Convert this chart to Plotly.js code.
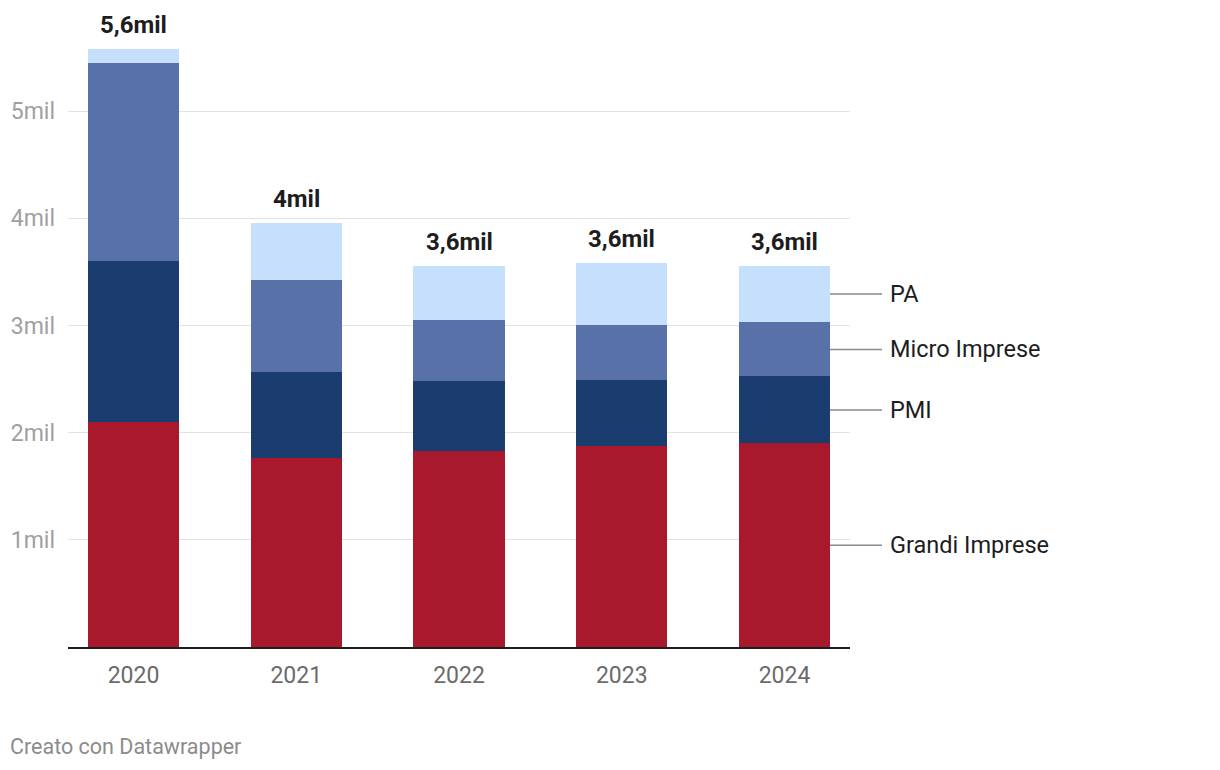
<!DOCTYPE html>
<html>
<head>
<meta charset="utf-8">
<script src="https://cdn.plot.ly/plotly-3.0.1.min.js"></script>
<style>
html,body{margin:0;padding:0;background:#fff;}
#chart{width:1220px;height:770px;}
</style>
</head>
<body>
<div id="chart"></div>
<script>
const years = ["2020", "2021", "2022", "2023", "2024"];
const grandiImprese = [2.10, 1.76, 1.83, 1.875, 1.90];
const pmi = [1.50, 0.81, 0.65, 0.615, 0.625];
const microImprese = [1.855, 0.86, 0.57, 0.52, 0.505];
const pa = [0.13, 0.53, 0.51, 0.57, 0.53];
const seriesNames = ["Grandi Imprese", "PMI", "Micro Imprese", "PA"];
const seriesColors = ["#a8192e", "#1a3c6e", "#5872a9", "#c6dffc"];
const yTickVals = [1, 2, 3, 4, 5];
const yTickText = ["1mil", "2mil", "3mil", "4mil", "5mil"];

const series = [grandiImprese, pmi, microImprese, pa];
const xIdx = years.map((_, i) => i);

const traces = series.map((vals, k) => ({
  type: "bar",
  x: xIdx,
  y: vals,
  name: seriesNames[k],
  marker: {color: seriesColors[k], line: {width: 0}},
  hoverinfo: "skip"
}));

const totals = xIdx.map(i => series.reduce((s, arr) => s + arr[i], 0));
function fmt(v) {
  let s = (Math.round(v * 10 + 1e-9) / 10).toFixed(1);
  if (s.endsWith(".0")) s = s.slice(0, -2);
  return s.replace(".", ",") + "mil";
}

const annotations = totals.map((t, i) => ({
  x: i, y: t, xref: "x", yref: "y",
  text: "<b>" + fmt(t) + "</b>",
  showarrow: false, yanchor: "bottom", yshift: 8,
  font: {family: "Roboto, sans-serif", size: 24, color: "#1d1d1d"}
}));

// right-hand labels at the midpoints of the last bar's segments
const last = years.length - 1;
const shapes = [];
let cum = 0;
series.forEach((arr, k) => {
  const mid = cum + arr[last] / 2;
  cum += arr[last];
  shapes.push({
    type: "line", xref: "paper", yref: "y",
    x0: 0.9744, x1: 1.041, y0: mid, y1: mid,
    line: {color: "#8a8a8a", width: 1.5}
  });
  annotations.push({
    xref: "paper", yref: "y", x: 1.041, y: mid,
    text: seriesNames[k], showarrow: false,
    xanchor: "left", xshift: 6,
    font: {family: "Roboto, sans-serif", size: 23.5, color: "#1d1d1d"}
  });
});

annotations.push({
  xref: "paper", yref: "paper", x: 0, y: 0,
  xanchor: "left", yanchor: "middle",
  xshift: -60, yshift: -99,
  text: "Creato con Datawrapper", showarrow: false,
  font: {family: "Roboto, sans-serif", size: 21.5, color: "#8c8c8c"}
});

const layout = {
  width: 1220, height: 770,
  margin: {l: 68, r: 370, t: 47, b: 123},
  paper_bgcolor: "#fff", plot_bgcolor: "#fff",
  barmode: "stack",
  bargap: 0.44,
  showlegend: false,
  font: {family: "Roboto, sans-serif"},
  xaxis: {
    range: [-0.4025, 4.4025],
    tickvals: xIdx, ticktext: years,
    showgrid: false, zeroline: false,
    showline: true, linecolor: "#1d1d1d", linewidth: 2,
    ticks: "", ticklabelstandoff: 6,
    tickfont: {family: "Roboto, sans-serif", size: 23, color: "#6b6b6b"},
    fixedrange: true
  },
  yaxis: {
    range: [0, 5.6],
    tickvals: yTickVals, ticktext: yTickText,
    showgrid: true, gridcolor: "#e3e3e3", gridwidth: 1,
    zeroline: false, showline: false, ticks: "",
    ticklabelstandoff: 12,
    tickfont: {family: "Roboto, sans-serif", size: 23, color: "#a0a0a0"},
    fixedrange: true
  },
  shapes: shapes,
  annotations: annotations
};

Plotly.newPlot("chart", traces, layout, {displayModeBar: false, staticPlot: true});
</script>
</body>
</html>
